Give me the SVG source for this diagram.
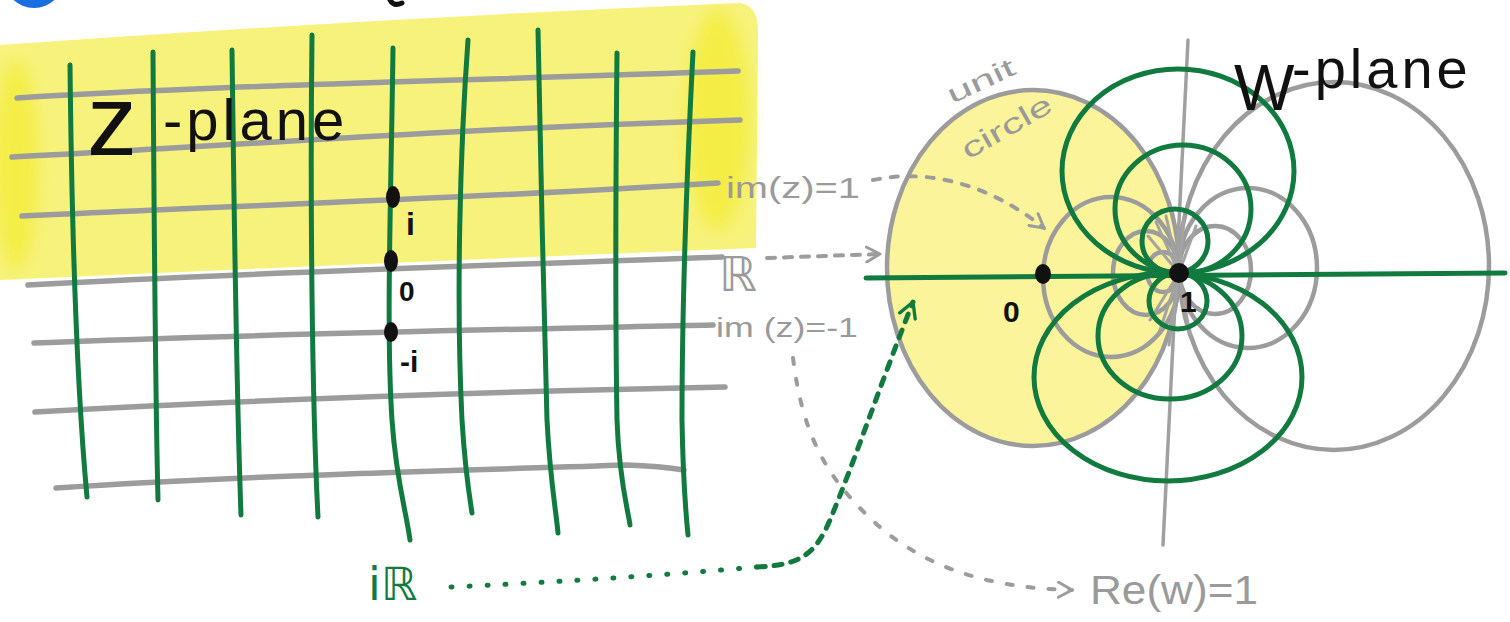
<svg xmlns="http://www.w3.org/2000/svg" width="1510" height="622" viewBox="0 0 1510 622">
<defs>
<style>
.g{fill:none;stroke:#9c9c9c;stroke-width:5.5;stroke-linecap:round;stroke-linejoin:round}
.gc{fill:none;stroke:#9c9c9c;stroke-width:4.5}
.sp{fill:none;stroke:#a3a3a3;stroke-width:3;stroke-linecap:round}
.v{fill:none;stroke:#117a3e;stroke-width:5;stroke-linecap:round;stroke-linejoin:round}
.ax{fill:none;stroke:#a0a0a0;stroke-width:3.5;stroke-linecap:round}
.lbl{font-family:"Liberation Sans",Arial,sans-serif;fill:#9a9a9a}
.bb{font-family:"DejaVu Sans","Liberation Sans",sans-serif}
.hand{font-family:"Liberation Sans",Arial,sans-serif;fill:#111}
.pt{font-family:"Liberation Sans",Arial,sans-serif;fill:#111;font-weight:bold}
.dot{fill:#111}
.gd{fill:none;stroke:#9c9c9c;stroke-width:4;stroke-linecap:round}
.vd{fill:none;stroke:#117a3e;stroke-width:5;stroke-linecap:round}
</style>
<filter id="blur" x="-50%" y="-50%" width="200%" height="200%"><feGaussianBlur stdDeviation="8"/></filter>
<marker id="ga" viewBox="0 0 12 12" refX="10" refY="6" markerWidth="4.5" markerHeight="4.5" orient="auto" markerUnits="strokeWidth">
<path d="M1,1 L10,6 L1,11" fill="none" stroke="#9c9c9c" stroke-width="2" stroke-linecap="round" stroke-linejoin="round"/>
</marker>
<marker id="va" viewBox="0 0 12 12" refX="10" refY="6" markerWidth="4" markerHeight="4" orient="auto" markerUnits="strokeWidth">
<path d="M1,1 L10,6 L1,11" fill="none" stroke="#117a3e" stroke-width="2" stroke-linecap="round" stroke-linejoin="round"/>
</marker>
</defs>
<rect width="1510" height="622" fill="#ffffff"/>

<g id="cropped-top">
<circle cx="34" cy="-22" r="30" fill="#1a6fe0"/>
<path d="M390,0 Q394,7 402,3" fill="none" stroke="#111" stroke-width="5" stroke-linecap="round"/>
</g>

<g id="z-plane">
<path d="M0,45 Q380,18 740,3 Q758,6 758,30 L756,248 Q400,262 0,280 Z" fill="#f7f27c"/>
<ellipse cx="16" cy="165" rx="22" ry="105" fill="#f3ec35" opacity="0.75" filter="url(#blur)"/>
<ellipse cx="718" cy="120" rx="32" ry="110" fill="#f3ec35" opacity="0.75" filter="url(#blur)"/>
<path class="g" d="M17,98 C200,86 420,82 738,71"/>
<path class="g" d="M12,157 C200,148 420,130 740,120"/>
<path class="g" d="M22,216 C250,205 480,198 718,183"/>
<path class="g" d="M28,285 C260,272 480,266 722,257"/>
<path class="g" d="M34,343 C260,334 480,330 713,325"/>
<path class="g" d="M35,412 C250,400 480,392 725,387"/>
<path class="g" d="M56,488 C250,475 480,470 626,465 Q660,466 684,470"/>
<path class="v" d="M70,65 C72,250 78,400 87,497"/>
<path class="v" d="M153,52 C154,200 155,380 158,500"/>
<path class="v" d="M232,50 C234,200 236,380 241,515"/>
<path class="v" d="M312,35 C310,200 312,400 318,517"/>
<path class="v" d="M393,48 C391,200 386,330 392,420 C396,480 406,510 410,540"/>
<path class="v" d="M468,40 C460,150 456,300 462,420 C465,470 470,500 472,513"/>
<path class="v" d="M538,30 C540,150 544,300 547,420 C550,480 556,510 558,533"/>
<path class="v" d="M617,53 C616,150 615,300 617,420 C619,480 628,510 630,525"/>
<path class="v" d="M693,52 C688,150 682,300 682,420 C683,480 686,515 688,535"/>
<ellipse class="dot" cx="393" cy="197" rx="7" ry="11"/>
<ellipse class="dot" cx="391" cy="261" rx="7" ry="11"/>
<ellipse class="dot" cx="391" cy="332" rx="7" ry="10"/>
<text class="pt" x="406" y="235" font-size="32">i</text>
<text class="pt" x="399" y="301" font-size="28">0</text>
<text class="pt" x="400" y="372" font-size="30">-i</text>
<text class="hand" x="87" y="155" font-size="100">z<tspan x="163" y="140" font-size="58" letter-spacing="4">-plane</tspan></text>
</g>

<g id="w-plane">
<ellipse cx="1033" cy="268" rx="146" ry="178" fill="#fbf49b"/>
<ellipse class="gc" cx="1033" cy="268" rx="146" ry="178"/>
<ellipse class="gc" cx="1111" cy="277" rx="68" ry="80"/>
<ellipse class="gc" cx="1146" cy="273" rx="33" ry="42"/>
<ellipse class="gc" cx="1163" cy="272" rx="16" ry="20"/>
<ellipse class="gc" cx="1334" cy="266" rx="155" ry="184"/>
<ellipse class="gc" cx="1248" cy="268" rx="69" ry="80"/>
<ellipse class="gc" cx="1215" cy="270" rx="36" ry="44"/>
<path class="ax" d="M1188,40 L1163,545"/>
<path class="sp" d="M1179,273 L1156,222 M1179,273 L1166,216 M1179,273 L1184,218 M1179,273 L1196,226 M1179,273 L1148,236 M1179,273 L1160,330 M1179,273 L1169,345 M1179,273 L1190,335 M1179,273 L1150,320"/>
<ellipse class="v" cx="1178" cy="171" rx="116" ry="102"/>
<ellipse class="v" cx="1183" cy="209" rx="68" ry="64"/>
<ellipse class="v" cx="1175" cy="241" rx="33" ry="32"/>
<ellipse class="v" cx="1168" cy="377" rx="134" ry="104"/>
<ellipse class="v" cx="1170" cy="336" rx="72" ry="63"/>
<ellipse class="v" cx="1178" cy="301" rx="29" ry="28"/>
<path class="v" d="M866,278 L1505,273"/>
<ellipse class="dot" cx="1043" cy="274" rx="8" ry="10"/>
<circle class="dot" cx="1179" cy="273" r="10"/>
<text class="pt" x="1003" y="322" font-size="30">0</text>
<text class="pt" x="1180" y="312" font-size="30">1</text>
<text class="lbl" font-size="26" transform="translate(952,104) rotate(-25)" textLength="72" lengthAdjust="spacingAndGlyphs">unit</text>
<text class="lbl" font-size="28" transform="translate(968,160) rotate(-30)" textLength="100" lengthAdjust="spacingAndGlyphs">circle</text>
<text class="hand" x="1234" y="110" font-size="64">W<tspan x="1292" y="88" font-size="56" letter-spacing="4">-plane</tspan></text>
</g>

<g id="labels">
<text class="lbl" x="726" y="198" font-size="30" textLength="134" lengthAdjust="spacingAndGlyphs">im(z)=1</text>
<text class="lbl bb" x="719" y="291" font-size="48">ℝ</text>
<text class="lbl" x="716" y="337" font-size="28" textLength="142" lengthAdjust="spacingAndGlyphs">im (z)=-1</text>
<text class="lbl" x="1090" y="604" font-size="40" textLength="168" lengthAdjust="spacingAndGlyphs">Re(w)=1</text>
<text class="bb" x="368" y="600" font-size="46" fill="#117a3e">iℝ</text>
</g>

<g id="connectors">
<path class="gd" d="M873,180 C930,168 990,185 1044,228" stroke-dasharray="7 11" marker-end="url(#ga)"/>
<path class="gd" d="M767,258 L880,254" stroke-dasharray="8 9" marker-end="url(#ga)"/>
<path class="gd" d="M793,358 C803,440 830,480 872,520 C915,560 975,588 1072,590" stroke-dasharray="6 15" marker-end="url(#ga)"/>
<path class="vd" d="M451,587 C600,580 700,572 757,567" stroke-dasharray="1 17"/>
<path class="vd" d="M757,567 C800,565 815,555 830,520 C855,460 882,380 913,302" stroke-dasharray="8 9" marker-end="url(#va)"/>
</g>
</svg>
